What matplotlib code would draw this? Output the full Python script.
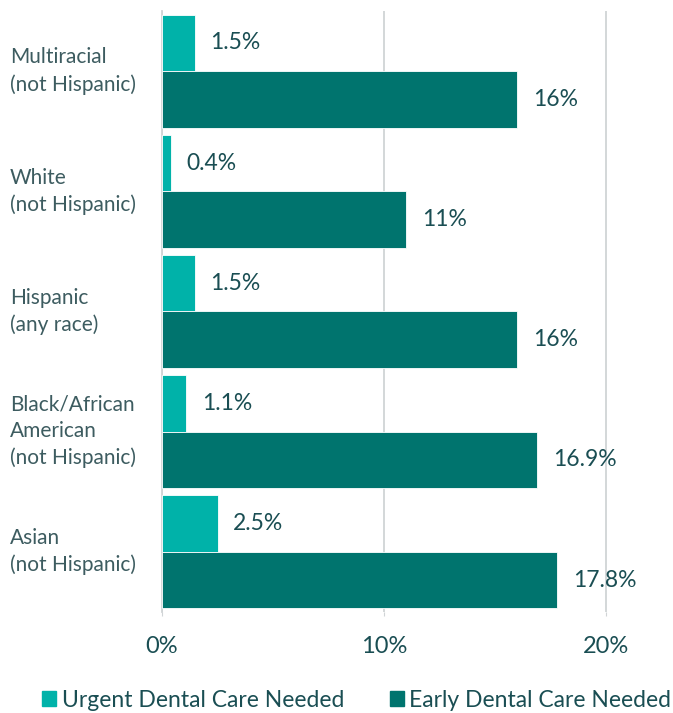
import matplotlib.pyplot as plt
import numpy as np
from matplotlib.patches import Patch
from matplotlib.transforms import blended_transform_factory

# Data
groups = ["Multiracial\n(not Hispanic)", "White\n(not Hispanic)", "Hispanic\n(any race)",
          "Black/African\nAmerican\n(not Hispanic)", "Asian\n(not Hispanic)"]
urgent = [1.5, 0.4, 1.5, 1.1, 2.5]
early = [16, 11, 16, 16.9, 17.8]
urgent_labels = ["1.5%", "0.4%", "1.5%", "1.1%", "2.5%"]
early_labels = ["16%", "11%", "16%", "16.9%", "17.8%"]
series_names = ["Urgent Dental Care Needed", "Early Dental Care Needed"]

c_urgent = "#00b2a9"
c_early = "#00746e"
c_text = "#1a4e53"
c_label = "#3d5c60"

plt.rcParams['font.family'] = ['Lato', 'DejaVu Sans']

fig = plt.figure(figsize=(6.73, 7.13), dpi=100)
ax = fig.add_axes([0.2407, 0.1417, 0.7593, 0.8429])

y = np.arange(len(groups))
h = 0.47
ax.barh(y - h / 2, urgent, height=h, color=c_urgent, edgecolor="white", linewidth=0.6, zorder=3)
ax.barh(y + h / 2, early, height=h, color=c_early, edgecolor="white", linewidth=0.6, zorder=3)

for yi, v, lab in zip(y, urgent, urgent_labels):
    ax.annotate(lab, (v, yi - h / 2), xytext=(11, 0), textcoords="offset points",
                ha="left", va="center", fontsize=16.5, color=c_text)
for yi, v, lab in zip(y, early, early_labels):
    ax.annotate(lab, (v, yi + h / 2), xytext=(11, 0), textcoords="offset points",
                ha="left", va="center", fontsize=16.5, color=c_text)

ax.set_ylim(len(groups) - 0.5, -0.5)
ax.set_xlim(0, 23)
ax.set_xticks([0, 10, 20])
ax.set_xticklabels(["0%", "10%", "20%"], fontsize=17, color=c_text)
ax.tick_params(axis="x", length=3, color="#d0d4d6", pad=14)
ax.set_yticks([])
ax.xaxis.grid(True, color="#d0d4d6", linewidth=1.3, zorder=0)
for s in ["top", "right", "bottom"]:
    ax.spines[s].set_visible(False)
ax.spines["left"].set_color("#d0d4d6")
ax.spines["left"].set_linewidth(1.3)

# Category labels, left aligned near the figure edge
tr = blended_transform_factory(fig.transFigure, ax.transData)
for yi, g in zip(y, groups):
    ax.text(10 / 673, yi, g, transform=tr, ha="left", va="center",
            fontsize=15, color=c_label, linespacing=1.4)

handles = [Patch(color=c_urgent), Patch(color=c_early)]
fig.legend(handles, series_names, loc="center", bbox_to_anchor=(0.53, 0.018), ncol=2,
           frameon=False, fontsize=16.5, labelcolor=c_text, handlelength=0.6, handleheight=0.6,
           handletextpad=0.25, columnspacing=2.0)

fig.savefig("out.png", dpi=100)
plt.close()
